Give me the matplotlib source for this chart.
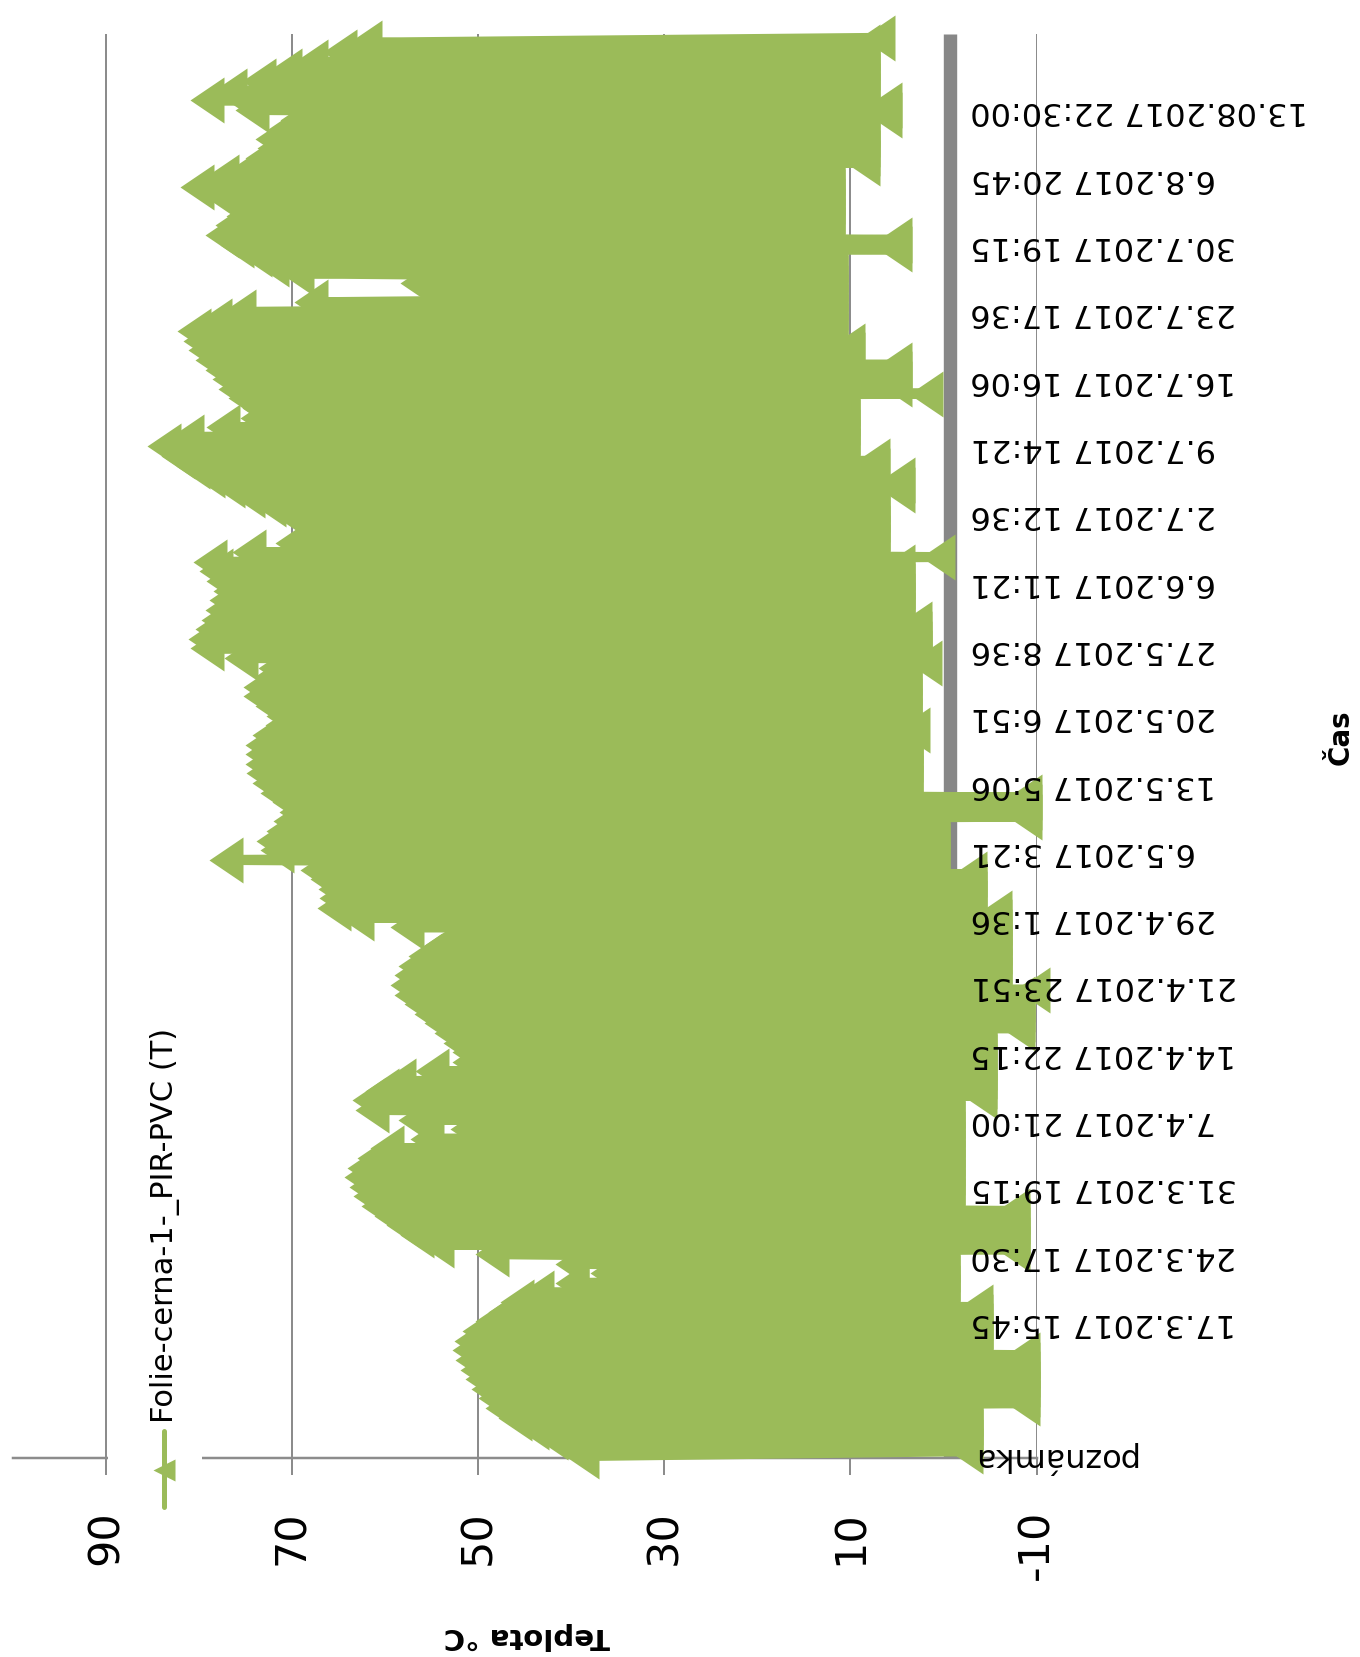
import matplotlib
matplotlib.use("Agg")
import matplotlib.pyplot as plt
from matplotlib import font_manager
from matplotlib.lines import Line2D
from matplotlib.patches import Rectangle
from matplotlib.transforms import ScaledTranslation

# Daily temperature extremes of the foil sensor, one value per day (°C)
daily_max = [
    38.8, 40.1, 42.2, 44.2, 46.0, 47.4, 48.2, 48.9, 49.6, 50.1,
    50.7, 51.0, 50.8, 49.9, 48.5, 47.1, 45.8, 43.7, 39.9, 36.1,
    39.9, 48.5, 54.4, 56.6, 58.1, 59.4, 60.8, 61.6, 62.0, 62.6,
    62.3, 61.2, 59.8, 55.5, 51.2, 56.8, 61.4, 61.7, 60.3, 58.5,
    55.0, 51.0, 51.0, 51.9, 52.9, 54.0, 55.1, 56.1, 57.2, 57.6,
    57.2, 56.8, 55.7, 54.1, 52.5, 57.6, 63.0, 65.5, 65.3, 65.4,
    66.2, 67.3, 77.1, 71.6, 72.0, 71.0, 70.2, 69.6, 70.3, 71.6,
    72.5, 73.1, 73.2, 73.2, 73.2, 72.5, 71.1, 71.0, 72.1, 73.4,
    73.4, 72.2, 71.8, 75.5, 79.1, 79.3, 78.6, 77.9, 77.5, 77.1,
    76.7, 77.4, 78.2, 78.8, 74.6, 70.0, 68.1, 67.9, 70.3, 72.5,
    74.7, 76.9, 79.0, 80.6, 82.2, 83.7, 81.3, 77.4, 73.8, 73.5,
    75.0, 76.1, 76.8, 77.5, 78.6, 79.3, 79.9, 80.5, 78.3, 75.7,
    67.9, 54.4, 56.6, 69.5, 72.1, 74.0, 75.9, 77.5, 76.4, 75.3,
    75.2, 77.6, 80.2, 77.5, 74.6, 73.2, 71.9, 72.1, 70.7, 69.5,
    74.3, 79.1, 76.7, 73.5, 70.7, 67.9, 64.8, 62.2,
]
daily_min = (
    [-2.4] * 5 + [-8.6] * 6 + [-3.5] * 5 + [0.0] * 5 + [-7.5] * 5
    + [-0.5] * 11 + [-3.9] * 7 + [-8.0] * 4 + [-9.6] + [-5.5] * 8
    + [-2.9] * 4 + [1.1] * 5 + [-8.8] * 3 + [4.0] * 6 + [3.3]
    + [4.1] * 6 + [2.0] + [3.1] * 4 + [4.9] * 6 + [0.6] + [7.6] * 6
    + [4.9] * 2 + [7.6] * 2 + [10.8] * 6 + [1.9] + [5.2] * 3
    + [10.3] * 2 + [12.1] * 9 + [5.2] * 2 + [12.4] * 7 + [8.6] * 5
    + [6.3] * 2 + [8.6] * 6 + [7.0]
)

temp_ticks = [-10, 10, 30, 50, 70, 90]
time_labels = [
    "poznámka", "", "17.3.2017 15:45", "24.3.2017 17:30", "31.3.2017 19:15",
    "7.4.2017 21:00", "14.4.2017 22:15", "21.4.2017 23:51", "29.4.2017 1:36",
    "6.5.2017 3:21", "13.5.2017 5:06", "20.5.2017 6:51", "27.5.2017 8:36",
    "6.6.2017 11:21", "2.7.2017 12:36", "9.7.2017 14:21", "16.7.2017 16:06",
    "23.7.2017 17:36", "30.7.2017 19:15", "6.8.2017 20:45", "13.08.2017 22:30:00",
]
days_per_label = 7
series_name = "Folie-cerna-1-_PIR-PVC (T)"
value_title = "Teplota °C"
time_title = "Čas"

GREEN = "#9BBB59"
GRID = "#8C8C8C"
BAR = "#878787"
PX = 72 / 100  # points per pixel at dpi 100

installed = {f.name for f in font_manager.fontManager.ttflist}
if "Liberation Sans Narrow" in installed:
    flat_family, label_size, title_size = "Liberation Sans Narrow", 31, 29
else:
    flat_family, label_size, title_size = "DejaVu Sans", 23, 21

fig = plt.figure(figsize=(13.6, 16.58), dpi=100)
W, H = 1360, 1658
ax = fig.add_axes([12.7 / W, 1 - 1459 / H, (1036.5 - 12.7) / W, (1459 - 35) / H])
ax.set_xlim(100, -10)
ax.set_ylim(-0.2, 147.9)

# gridlines and value axis
ax.set_xticks(temp_ticks)
ax.set_xticklabels([str(t) for t in temp_ticks], rotation=90, fontsize=31,
                   family="DejaVu Sans")
ax.tick_params(axis="x", direction="out", length=17 * PX, width=2 * PX,
               color=GRID, pad=34 * PX)
ax.grid(axis="x", color=GRID, lw=2 * PX, zorder=0)
ax.set_axisbelow(True)
ax.set_yticks([])
for side in ("top", "left", "right"):
    ax.spines[side].set_visible(False)
ax.spines["bottom"].set_color(GRID)
ax.spines["bottom"].set_linewidth(2.5 * PX)

# category axis line at 0 °C
bar_tr = ax.get_xaxis_transform() + ScaledTranslation(0.067, 0, fig.dpi_scale_trans)
ax.add_line(Line2D([0, 0], [0, 1], transform=bar_tr, color=BAR,
                   lw=13.4 * PX, zorder=1, solid_capstyle="butt"))

# the measured series: each day's maximum followed by its minimum
pos, vals = [], []
for d, (hi, lo) in enumerate(zip(daily_max, daily_min)):
    pos += [d, d + 0.5]
    vals += [hi, lo]
tri_left = [(-0.739, 0), (0.739, 1), (0.739, -1), (-0.739, 0)]
ax.plot(vals, pos, color=GREEN, lw=10 * PX, marker=tri_left, ms=46 * PX,
        mew=0, mfc=GREEN, clip_on=False, zorder=3, solid_joinstyle="round")

# category labels, hanging from the 0 °C axis
for k, lbl in enumerate(time_labels):
    ax.annotate(lbl, xy=(0, k * days_per_label), xycoords="data",
                xytext=(27.2 * PX, 0), textcoords="offset points",
                rotation=180, ha="left", va="center", fontsize=label_size,
                family=flat_family, color="black", zorder=5,
                annotation_clip=False)

# axis titles
fig.text(527 / W, 1 - 1636 / H, value_title, rotation=180, ha="center",
         va="center", fontsize=title_size, weight="bold", family=flat_family)
fig.text(1341 / W, 1 - 737 / H, time_title, rotation=90, ha="center",
         va="center", fontsize=20, weight="bold", family="DejaVu Sans")

# legend
fig.add_artist(Rectangle((108 / W, 1 - 1512 / H), 94 / W, 502 / H,
                         transform=fig.transFigure, facecolor="white",
                         edgecolor="none", zorder=5))
fig.add_artist(Line2D([164 / W, 164 / W], [1 - 1508 / H, 1 - 1432 / H],
                      transform=fig.transFigure, color=GREEN, lw=5 * PX,
                      solid_capstyle="round", zorder=6))
fig.add_artist(Line2D([164 / W], [1 - 1471 / H], transform=fig.transFigure,
                      marker=[(-1, 0), (1, 1), (1, -1), (-1, 0)],
                      ms=22 * PX, color=GREEN, mew=0, zorder=6))
fig.text(165 / W, 1 - 1423 / H, series_name, rotation=90, ha="center",
         va="bottom", fontsize=22, family="DejaVu Sans", zorder=7)

fig.savefig("out.png", dpi=100, facecolor="white")
